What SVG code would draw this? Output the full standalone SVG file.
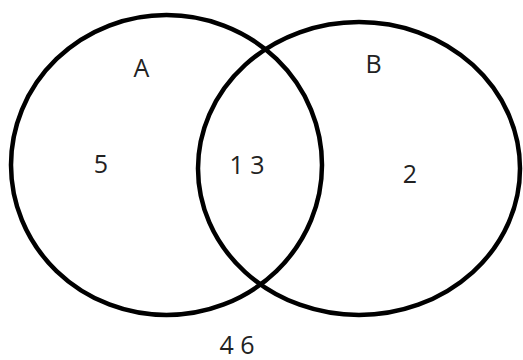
<svg xmlns="http://www.w3.org/2000/svg" width="523" height="360" viewBox="0 0 523 360">
<style>
.set{fill:none;stroke:#000;stroke-width:4.5}
.t{font-family:"Open Sans","Liberation Sans",Arial,sans-serif;font-size:25px;fill:#222;text-anchor:middle}
</style>
<rect width="523" height="360" fill="#fff"/>
<g id="setA">
<ellipse class="set" cx="166.5" cy="165" rx="155.5" ry="150"/>
<text class="t" x="141.5" y="77">A</text>
</g>
<g id="setB">
<ellipse class="set" cx="359" cy="168.5" rx="161" ry="146.5"/>
<text class="t" x="373.5" y="73">B</text>
</g>
<g id="labels">
<text class="t" x="101" y="173">5</text>
<text class="t" x="247" y="174">1 3</text>
<text class="t" x="410" y="183">2</text>
<text class="t" x="237" y="354">4 6</text>
</g>
<g id="connectors"/>
</svg>
